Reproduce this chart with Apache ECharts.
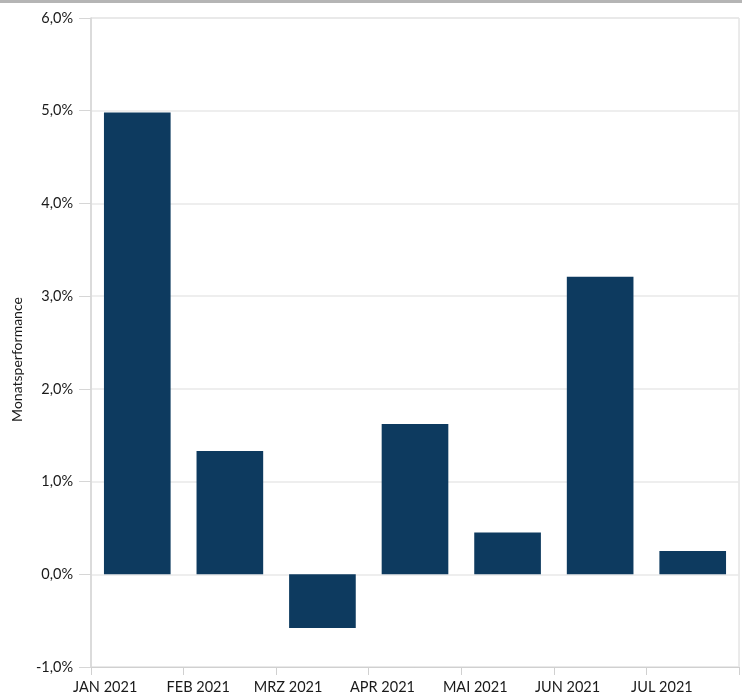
<!DOCTYPE html>
<html>
<head>
<meta charset="utf-8">
<script src="https://cdn.jsdelivr.net/npm/echarts@6/dist/echarts.min.js"></script>
<style>html,body{margin:0;padding:0;background:#fff}#c{width:746px;height:695px}</style>
</head>
<body>
<div id="c"></div>
<script>
const categories = ['JAN 2021','FEB 2021','MRZ 2021','APR 2021','MAI 2021','JUN 2021','JUL 2021'];
const performance = [4.98, 1.33, -0.58, 1.62, 0.45, 3.21, 0.25];
const yAxisName = 'Monatsperformance';

const chart = echarts.init(document.getElementById('c'));
const FONT = 'Lato';
chart.setOption({
  animation: false,
  textStyle: { fontFamily: FONT },
  graphic: [{
    type: 'rect', left: 0, top: 0,
    shape: { width: 742, height: 3 },
    style: { fill: '#b5b5b5' }
  }],
  grid: { left: 91, right: 7, top: 18, bottom: 27, show: true, borderColor: '#d6d6d6', borderWidth: 1 },
  xAxis: {
    type: 'category',
    data: categories,
    axisLine: { onZero: false, lineStyle: { color: '#d0d0d0', width: 1 } },
    axisTick: { show: true, length: 8, lineStyle: { color: '#d0d0d0' } },
    axisLabel: { align: 'right', margin: 13, color: '#1a1a1a', fontSize: 14.5, fontFamily: FONT }
  },
  yAxis: {
    type: 'value', min: -1, max: 6, interval: 1,
    name: yAxisName, nameLocation: 'middle', nameGap: 67, nameRotate: 90,
    nameTextStyle: { color: '#1a1a1a', fontSize: 14, fontFamily: FONT, padding: [0, 34, 0, 0] },
    axisLine: { show: true, lineStyle: { color: '#d6d6d6', width: 1.5 } },
    axisTick: { show: true, length: 12, lineStyle: { color: '#d6d6d6' } },
    splitLine: { show: true, lineStyle: { color: '#e8e8e8', width: 1.5 } },
    axisLabel: {
      margin: 18, color: '#1a1a1a', fontSize: 14.5, fontFamily: FONT,
      formatter: v => v.toFixed(1).replace('.', ',') + '%'
    }
  },
  series: [{
    type: 'bar',
    data: performance,
    barWidth: '72%',
    itemStyle: { color: '#0d3a5f' }
  }]
});
</script>
</body>
</html>
